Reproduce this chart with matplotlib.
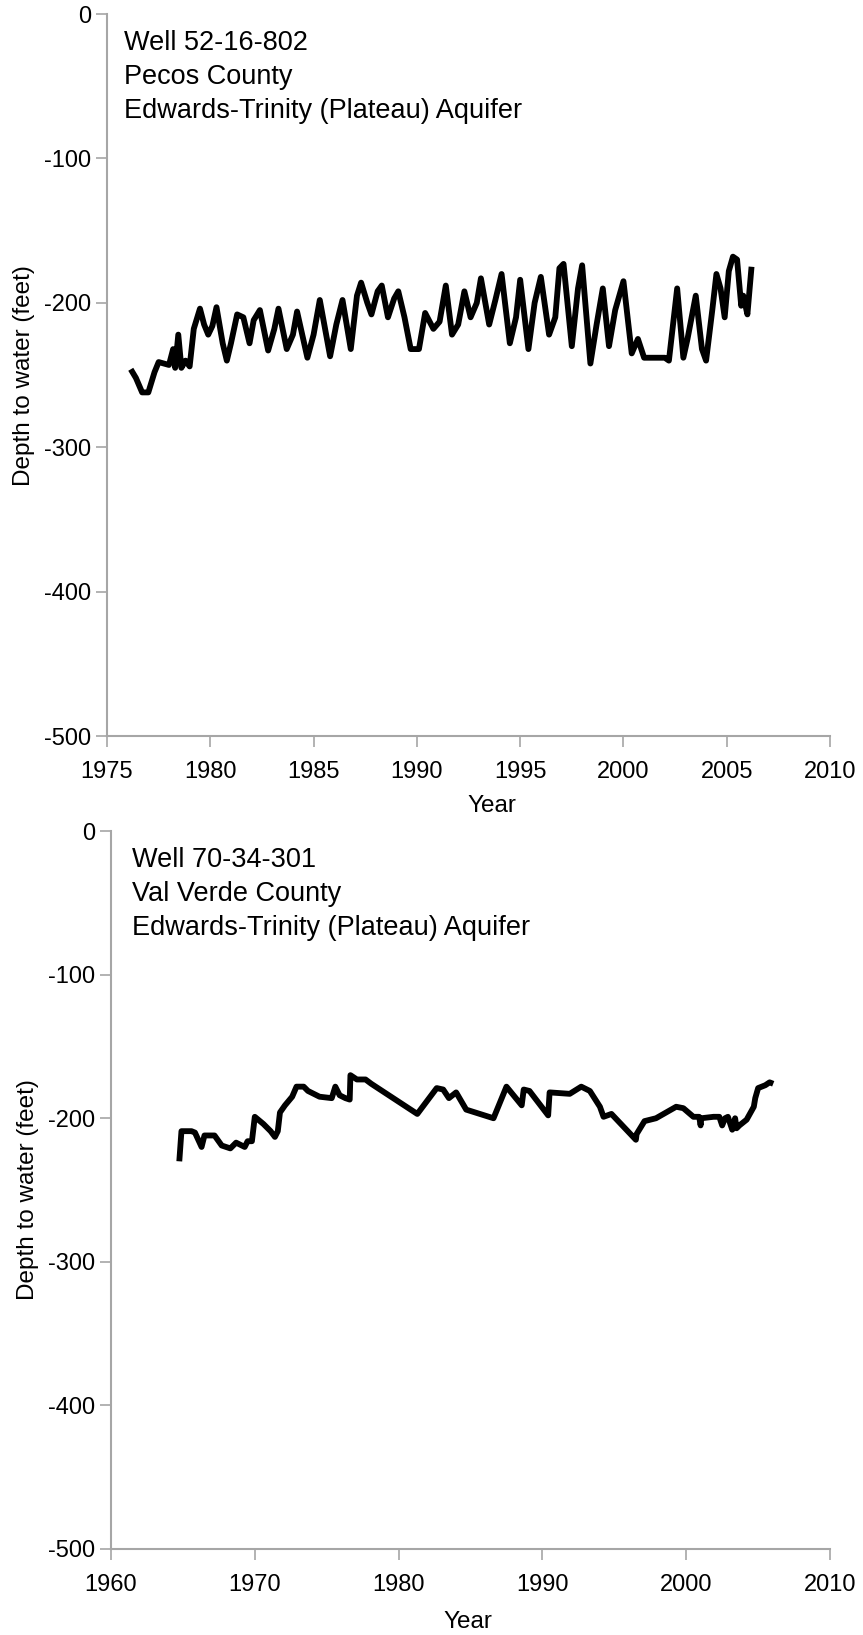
import numpy as np
import matplotlib
matplotlib.use("Agg")
import matplotlib.pyplot as plt

plt.rcParams['font.family'] = ['Liberation Sans', 'DejaVu Sans']
plt.rcParams['axes.unicode_minus'] = False

pecos_year = [1976.15, 1976.4, 1976.7, 1977.0, 1977.3, 1977.5, 1978.0, 1978.2, 1978.3, 1978.45,
              1978.6, 1978.8, 1979.0, 1979.2, 1979.5, 1979.7, 1979.9, 1980.1, 1980.3, 1980.6,
              1980.8, 1981.0, 1981.3, 1981.6, 1981.9, 1982.1, 1982.4, 1982.8, 1983.1, 1983.3,
              1983.7, 1984.0, 1984.2, 1984.7, 1985.0, 1985.3, 1985.8, 1986.1, 1986.4, 1986.8,
              1987.1, 1987.3, 1987.6, 1987.8, 1988.1, 1988.3, 1988.6, 1988.9, 1989.1, 1989.4,
              1989.7, 1990.1, 1990.4, 1990.8, 1991.1, 1991.4, 1991.7, 1992.0, 1992.3, 1992.6,
              1992.9, 1993.1, 1993.5, 1993.8, 1994.1, 1994.5, 1994.8, 1995.0, 1995.4, 1995.7,
              1996.0, 1996.4, 1996.7, 1996.9, 1997.1, 1997.5, 1997.8, 1998.0, 1998.4, 1998.7,
              1999.0, 1999.3, 1999.6, 2000.0, 2000.4, 2000.7, 2001.0, 2002.0, 2002.2, 2002.6,
              2002.9, 2003.1, 2003.5, 2003.8, 2004.0, 2004.3, 2004.5, 2004.7, 2004.9, 2005.1,
              2005.3, 2005.5, 2005.7, 2005.8, 2006.0, 2006.2]
pecos_depth = [-246, -252, -262, -262, -248, -241, -243, -232, -245, -222,
               -245, -240, -244, -218, -204, -215, -222, -216, -203, -228,
               -240, -228, -208, -210, -228, -212, -205, -233, -218, -204,
               -232, -222, -206, -238, -222, -198, -237, -215, -198, -232,
               -195, -186, -200, -208, -192, -188, -210, -197, -192, -210,
               -232, -232, -207, -218, -213, -188, -222, -215, -192, -210,
               -200, -183, -215, -198, -180, -228, -210, -184, -232, -200,
               -182, -222, -210, -176, -173, -230, -190, -174, -242, -215,
               -190, -230, -205, -185, -235, -225, -238, -238, -240, -190,
               -238, -225, -195, -232, -240, -205, -180, -190, -210, -178,
               -168, -170, -202, -195, -208, -175]

# well 70-34-301, Val Verde County
valverde_year = [1964.75, 1964.9, 1965.6, 1965.84, 1966.3, 1966.5, 1967.2, 1967.7, 1968.3, 1968.7,
                 1969.3, 1969.5, 1969.8, 1970.0, 1970.6, 1971.1, 1971.4, 1971.6, 1971.75, 1972.1,
                 1972.6, 1972.9, 1973.4, 1973.7, 1974.5, 1975.35, 1975.6, 1975.9, 1976.3, 1976.6,
                 1976.65, 1977.1, 1977.7, 1978.1, 1981.3, 1982.65, 1983.1, 1983.5, 1984.0, 1984.7,
                 1986.6, 1987.5, 1988.56, 1988.7, 1989.1, 1990.4, 1990.5, 1991.9, 1992.7, 1993.3,
                 1994.0, 1994.25, 1994.8, 1996.5, 1996.55, 1997.1, 1997.9, 1999.3, 1999.8, 2000.5,
                 2000.9, 2001.0, 2001.05, 2001.9, 2002.3, 2002.5, 2002.7, 2002.9, 2003.2, 2003.4,
                 2003.5, 2003.7, 2004.2, 2004.7, 2004.8, 2005.0, 2005.5, 2005.8, 2006.05]
valverde_depth = [-230, -209, -209, -210, -220, -212, -212, -219, -221, -217,
                  -220, -216, -216, -199, -204, -209, -213, -209, -196, -191,
                  -185, -178, -178, -181, -185, -186, -178, -184, -186, -187,
                  -170, -173, -173, -176, -197, -179, -180, -186, -182, -194,
                  -200, -178, -191, -180, -181, -198, -182, -183, -178, -181,
                  -192, -199, -197, -215, -211, -202, -200, -192, -193, -199,
                  -199, -205, -200, -199, -199, -205, -200, -199, -208, -200,
                  -207, -205, -201, -192, -186, -179, -177, -175, -176]

panels = [
    dict(year=pecos_year, depth=pecos_depth, xlim=(1975, 2010), xstep=5,
         lines=["Well 52-16-802", "Pecos County", "Edwards-Trinity (Plateau) Aquifer"],
         rect=[0.124, 0.5498, 0.8378, 0.4416], xlab_x=0.532, xlab_y=-0.082, txt_x=0.0235),
    dict(year=valverde_year, depth=valverde_depth, xlim=(1960, 2010), xstep=10,
         lines=["Well 70-34-301", "Val Verde County", "Edwards-Trinity (Plateau) Aquifer"],
         rect=[0.1286, 0.0526, 0.8332, 0.4391], xlab_x=0.497, xlab_y=-0.086, txt_x=0.029),
]

fig = plt.figure(figsize=(8.63, 16.35), dpi=100)
grey = '#a6a6a6'
for p in panels:
    ax = fig.add_axes(p['rect'])
    ax.plot(p['year'], p['depth'], color='black', lw=4.2,
            solid_joinstyle='round', solid_capstyle='butt')
    ax.set_xlim(*p['xlim'])
    ax.set_ylim(-500, 0)
    ax.set_xticks(np.arange(p['xlim'][0], p['xlim'][1] + 1, p['xstep']))
    ax.set_yticks(np.arange(-500, 1, 100))
    for s in ['top', 'right']:
        ax.spines[s].set_visible(False)
    for s in ['left', 'bottom']:
        ax.spines[s].set_color(grey)
        ax.spines[s].set_linewidth(1.5)
    ax.tick_params(direction='out', length=8, width=1.2, color=grey,
                   labelsize=17, labelcolor='black')
    ax.tick_params(axis='x', pad=10)
    ax.tick_params(axis='y', pad=3.5)
    ax.set_xlabel('Year', fontsize=17.5)
    ax.xaxis.set_label_coords(p['xlab_x'], p['xlab_y'])
    ax.set_ylabel('Depth to water (feet)', fontsize=17.5)
    ax.yaxis.set_label_coords(-0.1, 0.5)
    ax.text(p['txt_x'], 0.978, '\n'.join(p['lines']), transform=ax.transAxes,
            fontsize=19.5, va='top', ha='left', linespacing=1.4)

fig.savefig('out.png', dpi=100)
